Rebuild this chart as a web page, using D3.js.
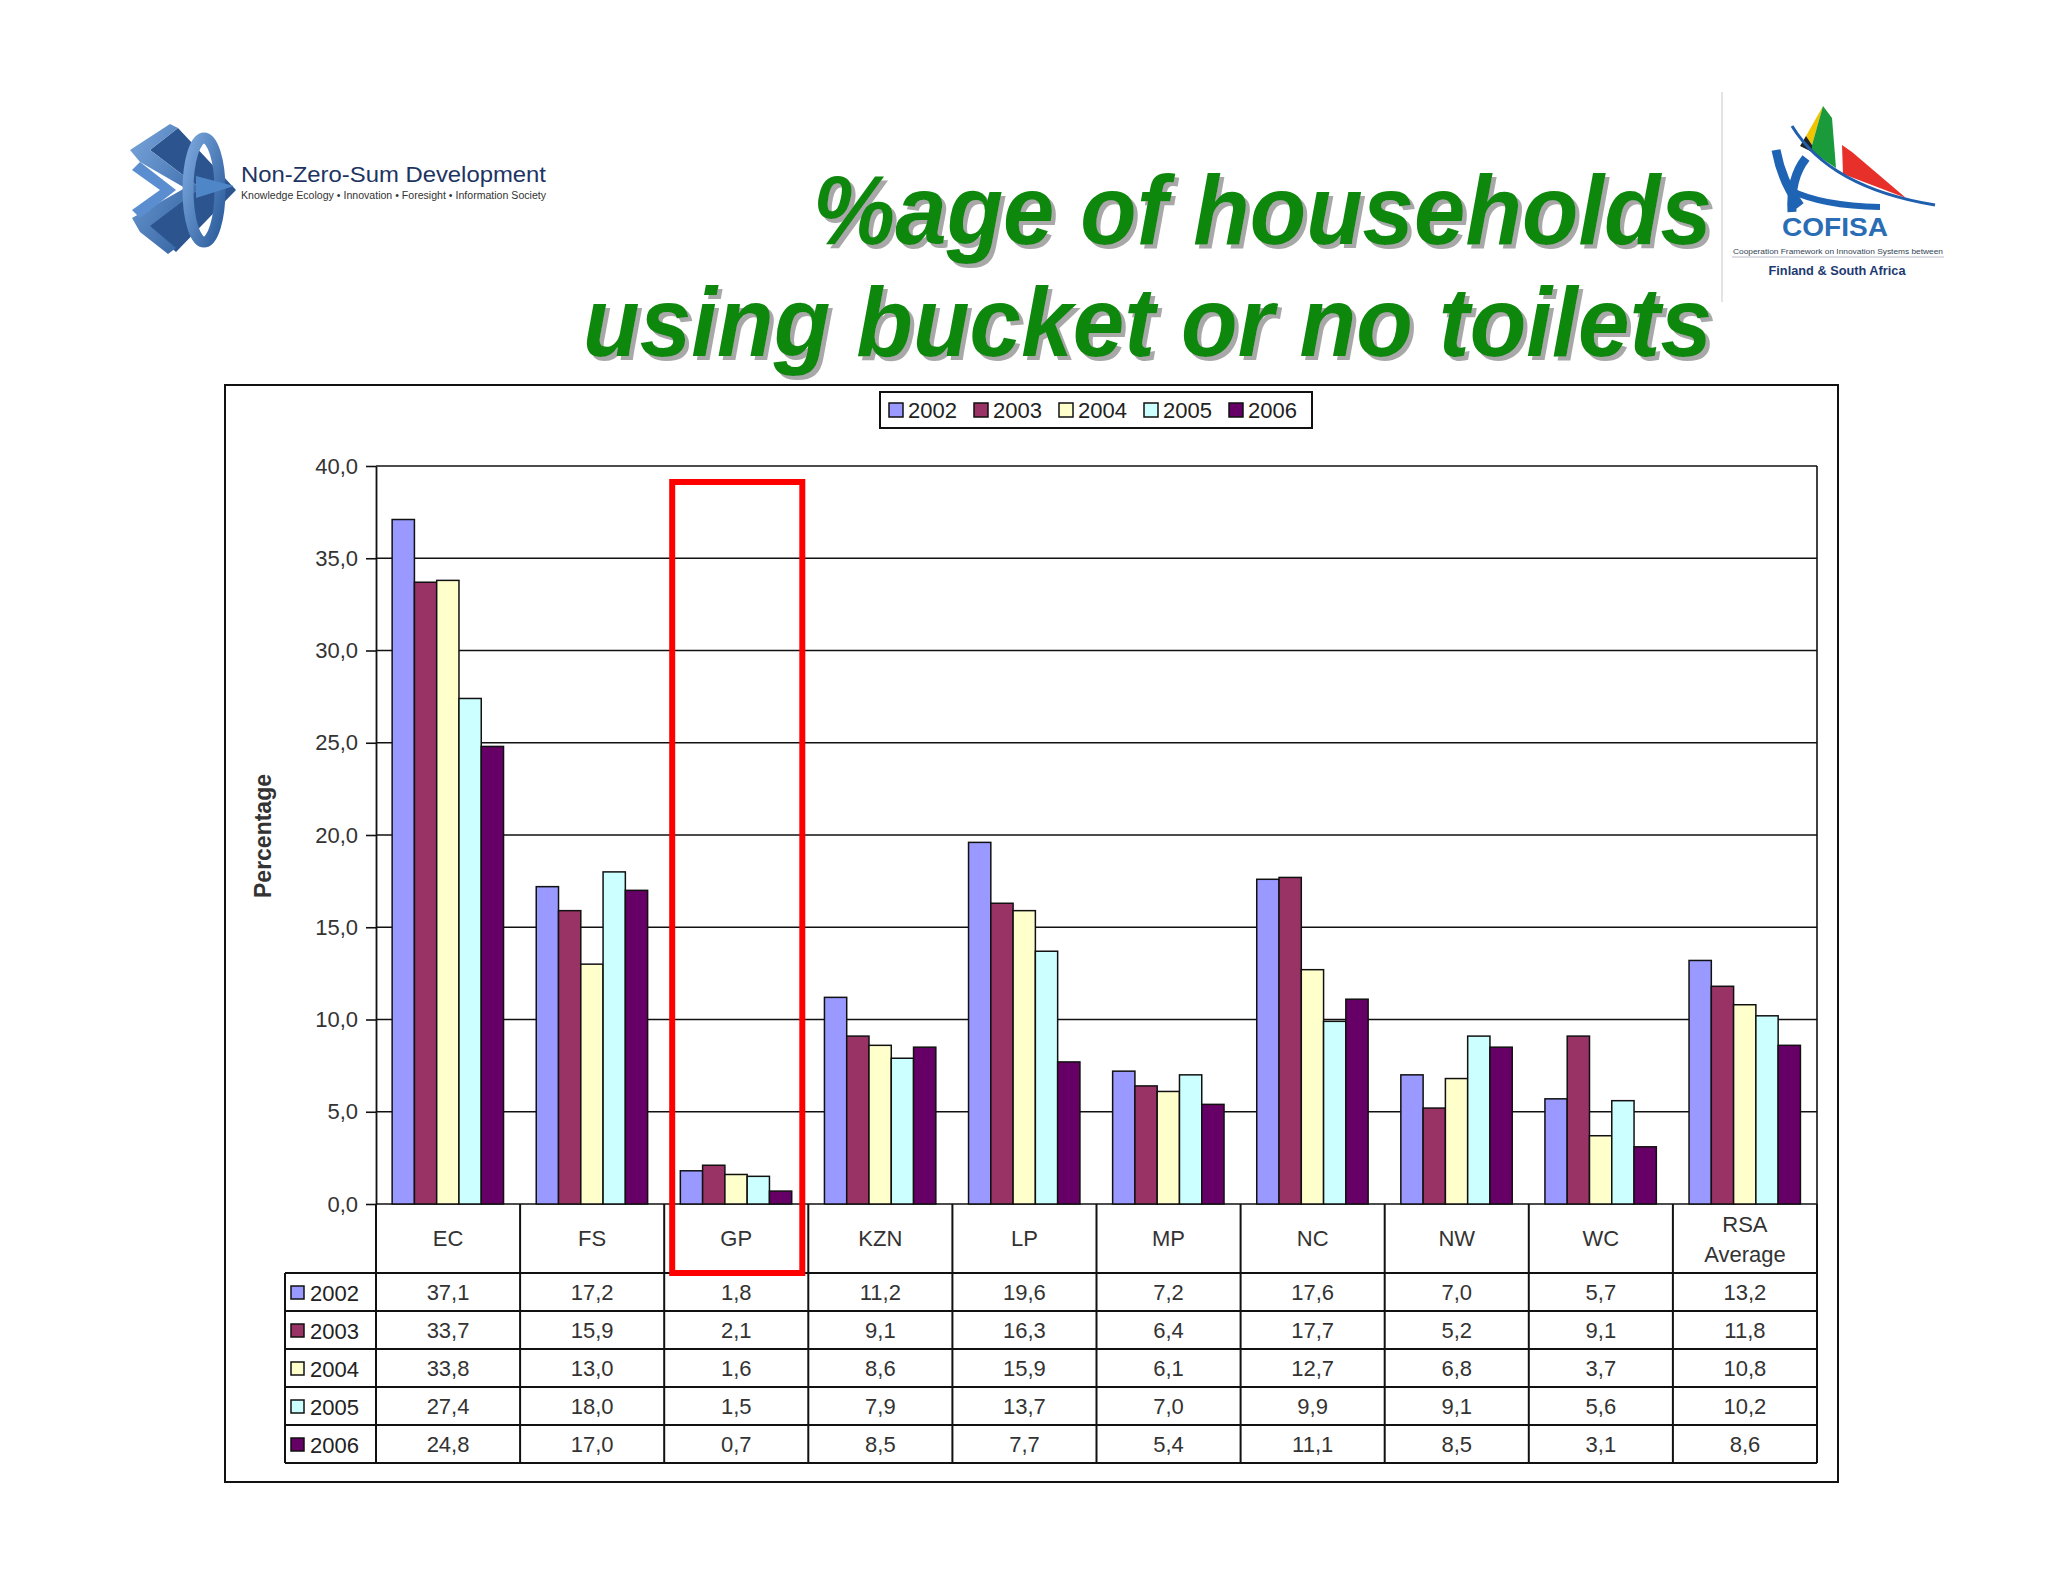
<!DOCTYPE html>
<html><head><meta charset="utf-8">
<script src="https://cdn.jsdelivr.net/npm/d3@7"></script>
<style>
html,body{margin:0;padding:0;background:#fff;}
svg{display:block;}
text{font-family:"Liberation Sans",Arial,sans-serif;}
</style></head>
<body>
<script>
const categories = ["EC","FS","GP","KZN","LP","MP","NC","NW","WC","RSA Average"];
const years = ["2002","2003","2004","2005","2006"];
const v2002 = [37.1,17.2,1.8,11.2,19.6,7.2,17.6,7.0,5.7,13.2];
const v2003 = [33.7,15.9,2.1,9.1,16.3,6.4,17.7,5.2,9.1,11.8];
const v2004 = [33.8,13.0,1.6,8.6,15.9,6.1,12.7,6.8,3.7,10.8];
const v2005 = [27.4,18.0,1.5,7.9,13.7,7.0,9.9,9.1,5.6,10.2];
const v2006 = [24.8,17.0,0.7,8.5,7.7,5.4,11.1,8.5,3.1,8.6];
const yTicks = [0,5,10,15,20,25,30,35,40];
const highlighted = "GP";
const colors = ["#9999ff","#993366","#ffffcc","#ccffff","#660066"];

const seriesValues = [v2002,v2003,v2004,v2005,v2006];
const fmt = v => d3.format(".1f")(v).replace(".", ",");

const W = 2048, H = 1582;
const svg = d3.select("body").append("svg").attr("width", W).attr("height", H);
const defs = svg.append("defs");
svg.append("rect").attr("width", W).attr("height", H).attr("fill", "#ffffff");

// shadow filter for title
const f = defs.append("filter").attr("id","tshadow").attr("x","-5%").attr("y","-20%").attr("width","110%").attr("height","140%");
f.append("feFlood").attr("flood-color","#a8a8a8").attr("result","fl");
f.append("feComposite").attr("in","fl").attr("in2","SourceAlpha").attr("operator","in").attr("result","sh");
f.append("feOffset").attr("in","sh").attr("dx",4).attr("dy",4).attr("result","off");
const fm = f.append("feMerge");
fm.append("feMergeNode").attr("in","off");
fm.append("feMergeNode").attr("in","SourceGraphic");

// ---- Title (one text element, two lines) ----
const tLines = [
  {t:"%age of households", y:244, x0:813},
  {t:"using bucket or no toilets", y:356, x0:583}
];
const titleRight = 1712;
const titleText = svg.append("text").attr("filter","url(#tshadow)")
  .attr("font-size", 98).attr("font-weight", "bold").attr("font-style", "italic").attr("fill", "#118811");
tLines.forEach(l => {
  titleText.append("tspan")
    .attr("x", l.x0).attr("y", l.y)
    .attr("textLength", titleRight - l.x0)
    .attr("lengthAdjust", "spacingAndGlyphs")
    .text(l.t);
});

// ---- Non-Zero-Sum logo ----
const lg = svg.append("g");
const gr = defs.append("linearGradient").attr("id","nzs").attr("x1","0").attr("y1","0").attr("x2","1").attr("y2","1");
gr.append("stop").attr("offset","0").attr("stop-color","#7aa6dc");
gr.append("stop").attr("offset","1").attr("stop-color","#2c5c9c");
lg.append("path").attr("d","M178,128 L150,150 L200,188 L148,226 L176,252 L236,190 Z").attr("fill","#2c5590");
lg.append("path").attr("d","M170,124 L130,150 L140,162 L185,188 L132,218 L140,232 L168,254 L176,248 L150,226 L200,188 L150,150 L178,128 Z").attr("fill","url(#nzs)");
lg.append("path").attr("d","M132,170 L160,190 L132,210 L140,218 L176,190 L140,162 Z").attr("fill","#5b8ed0");
lg.append("ellipse").attr("cx",204).attr("cy",190).attr("rx",16).attr("ry",52).attr("fill","none").attr("stroke","url(#nzs)").attr("stroke-width",11);
lg.append("path").attr("d","M196,176 L234,186 L196,198 Z").attr("fill","#4f86c8");
lg.append("text").attr("x",241).attr("y",182).attr("textLength",305).attr("lengthAdjust","spacingAndGlyphs")
  .attr("font-family","DejaVu Sans").attr("font-size",22).attr("fill","#1d3463").text("Non-Zero-Sum Development");
lg.append("text").attr("x",241).attr("y",199).attr("textLength",305).attr("lengthAdjust","spacingAndGlyphs")
  .attr("font-family","DejaVu Sans").attr("font-size",10).attr("fill","#333").text("Knowledge Ecology \u2022 Innovation \u2022 Foresight \u2022 Information Society");

// ---- COFISA logo ----
const cg = svg.append("g");
cg.append("line").attr("x1",1722).attr("x2",1722).attr("y1",92).attr("y2",302).attr("stroke","#e4e4e4").attr("stroke-width",2);
cg.append("path").attr("d","M1823,106 L1806,136 L1812,145 Z").attr("fill","#f2c400");
cg.append("path").attr("d","M1806,136 L1800,146 L1812,152 L1812,145 Z").attr("fill","#222");
cg.append("path").attr("d","M1823,106 L1832,118 L1836,168 L1812,152 L1812,145 Z").attr("fill","#1a9a3a");
cg.append("path").attr("d","M1842,145 L1852,152 L1906,198 L1843,174 Z").attr("fill","#e8302a");
cg.append("path").attr("d","M1792,126 Q1830,188 1935,205").attr("fill","none").attr("stroke","#1f5fae").attr("stroke-width",3);
cg.append("path").attr("d","M1776,150 Q1782,182 1800,206").attr("fill","none").attr("stroke","#1f64b4").attr("stroke-width",9);
cg.append("path").attr("d","M1806,158 Q1790,178 1792,212").attr("fill","none").attr("stroke","#1f64b4").attr("stroke-width",9);
cg.append("path").attr("d","M1790,190 Q1822,206 1880,207").attr("fill","none").attr("stroke","#1f64b4").attr("stroke-width",6);
cg.append("text").attr("x",1835).attr("y",236).attr("text-anchor","middle").attr("textLength",106).attr("lengthAdjust","spacingAndGlyphs")
  .attr("font-family","Open Sans").attr("font-weight","600").attr("font-size",25).attr("fill","#2a6db5").text("COFISA");
cg.append("text").attr("x",1838).attr("y",254).attr("text-anchor","middle").attr("textLength",210).attr("lengthAdjust","spacingAndGlyphs")
  .attr("font-family","Open Sans").attr("font-size",7).attr("fill","#345").text("Cooperation Framework on Innovation Systems between");
cg.append("line").attr("x1",1732).attr("x2",1944).attr("y1",257).attr("y2",257).attr("stroke","#aab").attr("stroke-width",0.8);
cg.append("text").attr("x",1837).attr("y",275).attr("text-anchor","middle").attr("textLength",137).attr("lengthAdjust","spacingAndGlyphs")
  .attr("font-family","Open Sans").attr("font-weight","bold").attr("font-size",13).attr("fill","#1d3a70").text("Finland & South Africa");

// ---- Chart frame ----
svg.append("rect").attr("x",225).attr("y",385).attr("width",1613).attr("height",1097)
  .attr("fill","#fff").attr("stroke","#111").attr("stroke-width",2);

// Legend
const legG = svg.append("g");
legG.append("rect").attr("x",880).attr("y",392).attr("width",432).attr("height",36).attr("fill","#fff").attr("stroke","#111").attr("stroke-width",2);
years.forEach((yr,i) => {
  const lx = 889 + i*85;
  legG.append("rect").attr("x",lx).attr("y",403).attr("width",14).attr("height",14).attr("fill",colors[i]).attr("stroke","#111").attr("stroke-width",1.5);
  legG.append("text").attr("x",lx+19).attr("y",418).attr("font-size",22).attr("fill","#222").text(yr);
});

// Scales
const plotL = 376, plotR = 1817, plotT = 466, plotB = 1204;
const x = d3.scaleBand().domain(categories).range([plotL, plotR]).padding(0);
const bw = x.bandwidth();
const xs = d3.scaleBand().domain(years).range([bw*0.112, bw*0.885]).padding(0);
const y = d3.scaleLinear().domain([0,40]).range([plotB, plotT]);

// gridlines
svg.append("g").selectAll("line").data(yTicks).join("line")
  .attr("x1",plotL).attr("x2",plotR).attr("y1",d=>y(d)).attr("y2",d=>y(d))
  .attr("stroke","#111").attr("stroke-width",1.6);
svg.append("line").attr("x1",plotR).attr("x2",plotR).attr("y1",plotT).attr("y2",plotB).attr("stroke","#111").attr("stroke-width",1.6);

// bars
const bars = svg.append("g");
years.forEach((yr,si) => {
  bars.selectAll(null).data(categories).join("rect")
    .attr("x", c => x(c) + xs(yr))
    .attr("width", xs.bandwidth())
    .attr("y", (c,i) => y(seriesValues[si][i]))
    .attr("height", (c,i) => y(0) - y(seriesValues[si][i]))
    .attr("fill", colors[si]).attr("stroke","#111").attr("stroke-width",1.5);
});

// y axis
const yAxis = d3.axisLeft(y).tickValues(yTicks).tickFormat(fmt).tickSize(10).tickSizeOuter(0).tickPadding(8);
const ax = svg.append("g").attr("transform",`translate(${plotL},0)`).call(yAxis);
ax.select(".domain").attr("stroke","#111").attr("stroke-width",1.8);
ax.selectAll(".tick line").attr("stroke","#111").attr("stroke-width",1.6);
ax.selectAll(".tick text").attr("font-size",22).attr("fill","#333").attr("font-family","Liberation Sans, Arial, sans-serif");

svg.append("text").attr("transform","translate(271,836) rotate(-90)").attr("text-anchor","middle")
  .attr("font-size",23).attr("font-weight","bold").attr("fill","#333").text("Percentage");

// ---- Data table ----
const tbl = svg.append("g");
const hdrB = 1273, rowH = 38;
const tblL = 285;
const tblB = hdrB + rowH*years.length;
const lineC = "#111", lw = 2;
d3.range(categories.length+1).forEach(i => {
  const xx = plotL + i*bw;
  tbl.append("line").attr("x1",xx).attr("x2",xx).attr("y1",plotB).attr("y2",tblB).attr("stroke",lineC).attr("stroke-width",lw);
});
tbl.append("line").attr("x1",tblL).attr("x2",tblL).attr("y1",hdrB).attr("y2",tblB).attr("stroke",lineC).attr("stroke-width",lw);
d3.range(years.length+1).forEach(r => {
  const yy = hdrB + r*rowH;
  tbl.append("line").attr("x1",tblL).attr("x2",plotR).attr("y1",yy).attr("y2",yy).attr("stroke",lineC).attr("stroke-width",lw);
});
categories.forEach(c => {
  const cx = x(c) + bw/2;
  const parts = c === "RSA Average" ? ["RSA","Average"] : [c];
  parts.forEach((p,j) => {
    const yy = parts.length === 1 ? 1246 : 1232 + j*30;
    tbl.append("text").attr("x",cx).attr("y",yy).attr("text-anchor","middle").attr("font-size",22).attr("fill","#333").text(p);
  });
});
years.forEach((yr,si) => {
  const ry = hdrB + si*rowH;
  tbl.append("rect").attr("x",291).attr("y",ry+13).attr("width",13).attr("height",13).attr("fill",colors[si]).attr("stroke","#111").attr("stroke-width",1.5);
  tbl.append("text").attr("x",310).attr("y",ry+28).attr("font-size",22).attr("fill","#222").text(yr);
  categories.forEach((c,i) => {
    tbl.append("text").attr("x",x(c)+bw/2).attr("y",ry+27).attr("text-anchor","middle").attr("font-size",22).attr("fill","#333").text(fmt(seriesValues[si][i]));
  });
});

// highlight box
const hx = x(highlighted);
svg.append("rect").attr("x",hx + 8).attr("y",482).attr("width",bw - 14).attr("height",hdrB - 482)
  .attr("fill","none").attr("stroke","#ff0000").attr("stroke-width",6);
</script>
</body></html>
